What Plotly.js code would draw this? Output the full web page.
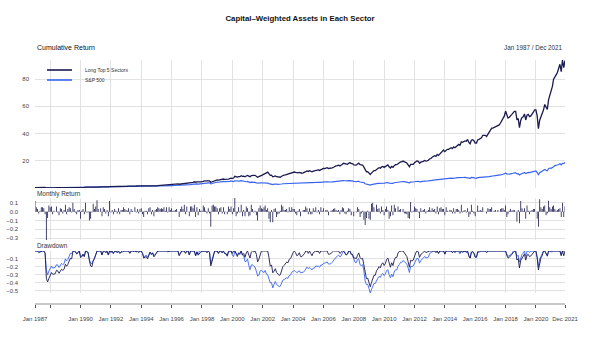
<!DOCTYPE html>
<html>
<head>
<meta charset="utf-8">
<script src="https://cdn.plot.ly/plotly-3.0.1.min.js"></script>
<style>
  body { margin: 0; background: #fff; }
  #chart { width: 600px; height: 340px; }
</style>
</head>
<body>
<div id="chart"></div>
<script>
const seriesNames = ['Long Top 5 Sectors', 'S&P 500'];
const seriesColors = ['#1b1b50', '#3a64f0'];
const firstYear = 1987;
const lastYear = 2021;

// monthly returns, one row per year (Jan..Dec)
const retLong = [
  0.12, 0.05, 0.03, -0.02, 0.01, 0.05, 0.05, 0.04, -0.03, -0.32, -0.07, 0.07,
  0.05, 0.06, -0.03, 0.01, 0.00, 0.06, -0.01, -0.04, 0.04, 0.03, -0.02, 0.02,
  0.08, -0.03, 0.03, 0.05, 0.04, -0.01, 0.10, 0.03, -0.01, -0.03, 0.02, 0.02,
  -0.08, 0.01, 0.03, -0.03, 0.10, -0.01, -0.01, -0.10, -0.08, -0.01, 0.09, 0.03,
  0.06, 0.13, 0.03, 0.00, 0.04, -0.05, 0.05, 0.03, -0.02, 0.02, -0.05, 0.12,
  -0.01, 0.02, -0.03, 0.03, 0.01, -0.02, 0.04, -0.03, 0.02, 0.02, 0.05, 0.03,
  0.02, 0.01, 0.04, -0.03, 0.03, 0.01, 0.00, 0.05, -0.01, 0.03, -0.02, 0.03,
  0.04, -0.03, -0.06, 0.01, 0.01, -0.03, 0.04, 0.05, -0.03, 0.02, -0.05, 0.02,
  0.03, 0.05, 0.04, 0.03, 0.04, 0.03, 0.05, 0.01, 0.05, -0.01, 0.05, 0.02,
  0.04, 0.01, 0.01, 0.02, 0.03, 0.00, -0.06, 0.03, 0.06, 0.03, 0.08, -0.03,
  0.06, 0.00, -0.05, 0.06, 0.06, 0.04, 0.08, -0.06, 0.05, -0.04, 0.03, 0.01,
  0.01, 0.07, 0.05, 0.01, -0.02, 0.04, -0.02, -0.17, 0.07, 0.08, 0.06, 0.06,
  0.04, -0.03, 0.04, 0.05, -0.02, 0.05, -0.03, 0.00, -0.03, 0.06, 0.03, 0.06,
  -0.03, 0.04, 0.155, -0.05, -0.02, 0.05, -0.01, 0.08, -0.05, 0.02, -0.05, 0.06,
  0.04, -0.05, -0.04, 0.08, 0.03, -0.01, 0.01, -0.04, -0.10, 0.04, 0.07, 0.04,
  0.03, 0.05, 0.07, 0.02, 0.04, -0.08, -0.12, 0.02, -0.12, 0.03, 0.04, -0.06,
  -0.03, -0.02, 0.01, 0.08, 0.06, 0.02, 0.02, 0.03, -0.01, 0.05, 0.01, 0.05,
  0.03, 0.03, -0.02, -0.04, 0.01, 0.03, -0.05, 0.00, 0.02, 0.02, 0.06, 0.04,
  -0.03, 0.04, -0.03, -0.03, 0.04, 0.01, 0.05, -0.01, 0.02, -0.03, 0.05, 0.01,
  0.04, 0.00, 0.02, 0.02, -0.04, 0.00, 0.01, 0.02, 0.03, 0.04, 0.02, 0.01,
  0.02, -0.03, 0.02, 0.05, 0.04, -0.02, -0.03, 0.01, 0.04, 0.03, -0.04, 0.00,
  -0.05, 0.00, -0.01, 0.05, 0.03, -0.06, -0.02, 0.01, -0.09, -0.15, -0.07, 0.01,
  -0.08, -0.09, 0.09, 0.10, 0.05, 0.00, 0.08, 0.03, 0.04, -0.02, 0.06, 0.02,
  -0.04, 0.03, 0.06, 0.02, -0.08, -0.05, 0.07, -0.04, 0.08, 0.04, 0.00, 0.06,
  0.02, 0.03, 0.00, 0.03, -0.02, -0.02, -0.03, -0.07, -0.08, 0.11, -0.01, 0.01,
  0.06, 0.04, 0.03, -0.01, -0.07, 0.04, 0.01, 0.02, 0.03, -0.02, 0.01, 0.02,
  0.05, 0.01, 0.04, 0.02, 0.03, -0.02, 0.06, -0.03, 0.04, 0.05, 0.03, 0.03,
  -0.04, 0.05, 0.01, 0.00, 0.02, 0.02, -0.02, 0.04, -0.02, 0.03, 0.03, 0.02,
  -0.02, 0.08, -0.01, 0.01, 0.02, -0.01, 0.04, -0.06, -0.03, 0.08, 0.01, -0.02,
  -0.05, 0.00, 0.07, 0.01, 0.02, 0.01, 0.05, 0.00, 0.00, -0.02, 0.04, 0.03,
  0.03, 0.05, 0.00, 0.01, 0.02, 0.00, 0.02, 0.00, 0.03, 0.04, 0.04, 0.02,
  0.07, -0.06, -0.03, 0.01, 0.03, 0.01, 0.02, 0.02, 0.00, -0.11, 0.02, -0.13,
  0.12, 0.04, 0.01, 0.04, -0.08, 0.07, 0.01, -0.03, 0.01, 0.02, 0.03, 0.03,
  0.00, -0.08, -0.17, 0.14, 0.05, 0.03, 0.06, 0.07, -0.04, -0.02, 0.125, 0.05,
  0.03, 0.06, 0.07, 0.03, 0.01, 0.02, 0.03, 0.04, -0.06, 0.10, -0.06, 0.06
];

const retSP = [
  0.132, 0.037, 0.026, -0.011, 0.006, 0.048, 0.048, 0.035, -0.024, -0.218, -0.085, 0.073,
  0.040, 0.042, -0.033, 0.009, 0.003, 0.043, -0.005, -0.039, 0.040, 0.026, -0.019, 0.015,
  0.071, -0.029, 0.021, 0.050, 0.035, -0.008, 0.088, 0.016, -0.007, -0.025, 0.017, 0.021,
  -0.069, 0.009, 0.024, -0.027, 0.092, -0.009, -0.005, -0.094, -0.051, -0.007, 0.060, 0.025,
  0.042, 0.067, 0.022, 0.000, 0.039, -0.048, 0.045, 0.020, -0.019, 0.012, -0.044, 0.112,
  -0.020, 0.010, -0.022, 0.028, 0.001, -0.017, 0.039, -0.024, 0.009, 0.002, 0.030, 0.010,
  0.007, 0.010, 0.019, -0.025, 0.023, 0.001, -0.005, 0.034, -0.010, 0.019, -0.013, 0.010,
  0.033, -0.030, -0.046, 0.012, 0.012, -0.027, 0.031, 0.038, -0.027, 0.021, -0.040, 0.012,
  0.024, 0.036, 0.027, 0.028, 0.036, 0.021, 0.032, 0.000, 0.040, -0.005, 0.041, 0.017,
  0.033, 0.007, 0.008, 0.013, 0.023, 0.002, -0.046, 0.019, 0.054, 0.026, 0.073, -0.022,
  0.061, 0.006, -0.043, 0.058, 0.059, 0.043, 0.078, -0.057, 0.053, -0.034, 0.045, 0.016,
  0.010, 0.070, 0.050, 0.009, -0.019, 0.039, -0.012, -0.146, 0.062, 0.080, 0.059, 0.056,
  0.041, -0.032, 0.039, 0.038, -0.025, 0.054, -0.032, -0.006, -0.029, 0.063, 0.019, 0.058,
  -0.051, -0.020, 0.097, -0.031, -0.022, 0.024, -0.016, 0.061, -0.053, -0.005, -0.080, 0.004,
  0.035, -0.092, -0.064, 0.077, 0.005, -0.025, -0.011, -0.064, -0.082, 0.018, 0.075, 0.008,
  -0.016, -0.021, 0.037, -0.061, -0.009, -0.072, -0.079, 0.005, -0.110, 0.086, 0.057, -0.060,
  -0.027, -0.017, 0.008, 0.081, 0.051, 0.011, 0.016, 0.018, -0.012, 0.055, 0.007, 0.051,
  0.017, 0.012, -0.016, -0.017, 0.012, 0.018, -0.034, 0.002, 0.009, 0.014, 0.039, 0.032,
  -0.025, 0.019, -0.019, -0.020, 0.030, 0.000, 0.036, -0.011, 0.007, -0.018, 0.035, -0.001,
  0.025, 0.000, 0.011, 0.012, -0.031, 0.000, 0.005, 0.021, 0.025, 0.032, 0.016, 0.013,
  0.014, -0.022, 0.010, 0.043, 0.033, -0.018, -0.032, 0.013, 0.036, 0.015, -0.044, -0.009,
  -0.061, -0.035, -0.006, 0.048, 0.011, -0.086, -0.010, 0.012, -0.091, -0.169, -0.075, 0.008,
  -0.086, -0.110, 0.085, 0.094, 0.053, 0.000, 0.074, 0.034, 0.036, -0.020, 0.057, 0.018,
  -0.037, 0.029, 0.059, 0.015, -0.082, -0.054, 0.069, -0.047, 0.088, 0.037, -0.002, 0.065,
  0.023, 0.032, -0.001, 0.028, -0.014, -0.018, -0.021, -0.057, -0.072, 0.108, -0.005, 0.009,
  0.044, 0.041, 0.031, -0.007, -0.063, 0.040, 0.013, 0.020, 0.024, -0.020, 0.003, 0.007,
  0.050, 0.011, 0.036, 0.018, 0.021, -0.015, 0.049, -0.031, 0.030, 0.045, 0.028, 0.024,
  -0.036, 0.043, 0.007, 0.006, 0.021, 0.019, -0.015, 0.038, -0.016, 0.023, 0.025, -0.004,
  -0.031, 0.055, -0.017, 0.009, 0.010, -0.021, 0.020, -0.063, -0.026, 0.083, 0.001, -0.018,
  -0.051, -0.004, 0.066, 0.003, 0.015, 0.001, 0.036, -0.001, -0.001, -0.019, 0.034, 0.018,
  0.018, 0.037, 0.000, 0.009, 0.012, 0.005, 0.019, 0.001, 0.019, 0.022, 0.028, 0.010,
  0.056, -0.039, -0.027, 0.003, 0.022, 0.005, 0.036, 0.030, 0.004, -0.069, 0.018, -0.092,
  0.079, 0.030, 0.018, 0.039, -0.066, 0.069, 0.013, -0.018, 0.017, 0.020, 0.034, 0.029,
  -0.002, -0.084, -0.125, 0.127, 0.045, 0.018, 0.055, 0.070, -0.039, -0.028, 0.108, 0.037,
  -0.011, 0.026, 0.042, 0.052, 0.005, 0.022, 0.023, 0.029, -0.048, 0.069, -0.008, 0.044
];

const xTickDates = ['1987-01-01', '1988-01-01', '1990-01-01', '1992-01-01', '1994-01-01',
  '1996-01-01', '1998-01-01', '2000-01-01', '2002-01-01', '2004-01-01', '2006-01-01',
  '2008-01-01', '2010-01-01', '2012-01-01', '2014-01-01', '2016-01-01', '2018-01-01',
  '2020-01-01', '2021-12-01'];
const xTickText = ['Jan 1987', '', 'Jan 1990', 'Jan 1992', 'Jan 1994', 'Jan 1996', 'Jan 1998',
  'Jan 2000', 'Jan 2002', 'Jan 2004', 'Jan 2006', 'Jan 2008', 'Jan 2010', 'Jan 2012',
  'Jan 2014', 'Jan 2016', 'Jan 2018', 'Jan 2020', 'Dec 2021'];
const cumTicks = [0, 20, 40, 60, 80];
const cumTickText = ['', '20', '40', '60', '80'];
const retTicks = [0.1, 0, -0.1, -0.2, -0.3];
const retTickText = ['0.1', '0.0', '\u22120.1', '\u22120.2', '\u22120.3'];
const ddTicks = [0, -0.1, -0.2, -0.3, -0.4, -0.5];
const ddTickText = ['', '\u22120.1', '\u22120.2', '\u22120.3', '\u22120.4', '\u22120.5'];

// month index
const months = [];
for (let y = firstYear; y <= lastYear; y++) {
  for (let m = 1; m <= 12; m++) months.push(y + '-' + String(m).padStart(2, '0') + '-01');
}

function cumulative(r) {
  let w = 1;
  return r.map(v => (w *= 1 + v) - 1);
}

function drawdown(r) {
  let w = 1, peak = 1;
  return r.map(v => {
    w *= 1 + v;
    peak = Math.max(peak, w);
    return w / peak - 1;
  });
}

const cumLong = cumulative(retLong);
const cumSP = cumulative(retSP);
const ddLong = drawdown(retLong);
const ddSP = drawdown(retSP);

const cumAll = cumLong.concat(cumSP);
const ddAll = ddLong.concat(ddSP);

// pixel -> paper helpers (plot area 35..565 x 60..304)
const px = p => (p - 35) / 530;
const py = p => (304 - p) / 244;

const gridColor = '#e2e2e2';
const tickFont = { size: 6, color: '#444' };

const data = [
  { x: months, y: cumSP, xaxis: 'x', yaxis: 'y', type: 'scatter', mode: 'lines',
    line: { color: seriesColors[1], width: 1.2 }, name: seriesNames[1] },
  { x: months, y: cumLong, xaxis: 'x', yaxis: 'y', type: 'scatter', mode: 'lines',
    line: { color: seriesColors[0], width: 1.3 }, name: seriesNames[0] },
  { x: months, y: retLong, xaxis: 'x', yaxis: 'y2', type: 'bar',
    marker: { color: seriesColors[0], line: { width: 0 } }, name: seriesNames[0] },
  { x: months, y: ddSP, xaxis: 'x', yaxis: 'y3', type: 'scatter', mode: 'lines',
    line: { color: seriesColors[1], width: 0.9 }, name: seriesNames[1] },
  { x: months, y: ddLong, xaxis: 'x', yaxis: 'y3', type: 'scatter', mode: 'lines',
    line: { color: seriesColors[0], width: 0.9 }, name: seriesNames[0] }
];

const layout = {
  width: 600,
  height: 340,
  margin: { l: 35, r: 35, t: 60, b: 36 },
  paper_bgcolor: '#ffffff',
  plot_bgcolor: '#ffffff',
  showlegend: false,
  bargap: 0.3,
  font: { family: 'Liberation Sans, Arial, sans-serif', size: 6, color: '#333' },
  title: {
    text: 'Capital\u2013Weighted Assets in Each Sector',
    font: { size: 7.8, weight: 'bold', color: '#111' },
    x: 0.5, xanchor: 'center', y: 1 - 18 / 340, yanchor: 'middle'
  },
  xaxis: {
    type: 'date',
    range: [months[0], months[months.length - 1]],
    anchor: 'free', position: 0,
    tickvals: xTickDates, ticktext: xTickText,
    showgrid: true, gridcolor: gridColor, gridwidth: 1,
    showline: true, linecolor: '#c8c8c8', linewidth: 2,
    ticks: 'outside', ticklen: 3, tickcolor: '#555', tickwidth: 1,
    tickfont: tickFont, ticklabelstandoff: 6,
    zeroline: false
  },
  yaxis: {
    domain: [py(188), py(60)],
    range: [Math.min(...cumAll), Math.max(...cumAll)],
    tickvals: cumTicks, ticktext: cumTickText,
    showgrid: true, gridcolor: gridColor, zeroline: false,
    ticks: '', tickfont: tickFont, ticklabelstandoff: 5
  },
  yaxis2: {
    domain: [py(240), py(198)],
    range: [Math.min(...retLong), Math.max(...retLong)],
    tickvals: retTicks, ticktext: retTickText,
    showgrid: true, gridcolor: gridColor, zeroline: false,
    ticks: '', tickfont: tickFont, ticklabelstandoff: 16
  },
  yaxis3: {
    domain: [py(293), py(251)],
    range: [Math.min(...ddAll), 0],
    tickvals: ddTicks, ticktext: ddTickText,
    showgrid: true, gridcolor: gridColor, zeroline: false,
    ticks: '', tickfont: tickFont, ticklabelstandoff: 16
  },
  shapes: [
    { type: 'line', xref: 'paper', yref: 'paper', x0: px(47), x1: px(72), y0: py(70), y1: py(70),
      line: { color: seriesColors[0], width: 1.6 } },
    { type: 'line', xref: 'paper', yref: 'paper', x0: px(47), x1: px(72), y0: py(80), y1: py(80),
      line: { color: seriesColors[1], width: 1.6 } }
  ],
  annotations: [
    { text: 'Cumulative Return', xref: 'paper', yref: 'paper', x: px(35), y: py(48),
      xanchor: 'left', yanchor: 'middle', showarrow: false, font: { size: 7, color: '#111' } },
    { text: 'Jan 1987 / Dec 2021', xref: 'paper', yref: 'paper', x: px(565), y: py(48),
      xanchor: 'right', yanchor: 'middle', showarrow: false, font: { size: 6.3, color: '#333' } },
    { text: 'Monthly Return', xref: 'paper', yref: 'paper', x: px(35), y: py(194),
      xanchor: 'left', yanchor: 'middle', showarrow: false, font: { size: 6.4, color: '#333' } },
    { text: 'Drawdown', xref: 'paper', yref: 'paper', x: px(35), y: py(245),
      xanchor: 'left', yanchor: 'middle', showarrow: false, font: { size: 6.4, color: '#333' } },
    { text: seriesNames[0], xref: 'paper', yref: 'paper', x: px(83), y: py(70),
      xanchor: 'left', yanchor: 'middle', showarrow: false, font: { size: 5, color: '#333' } },
    { text: seriesNames[1], xref: 'paper', yref: 'paper', x: px(83), y: py(80),
      xanchor: 'left', yanchor: 'middle', showarrow: false, font: { size: 5, color: '#333' } }
  ]
};

Plotly.newPlot('chart', data, layout, { displayModeBar: false, staticPlot: true });
</script>
</body>
</html>
